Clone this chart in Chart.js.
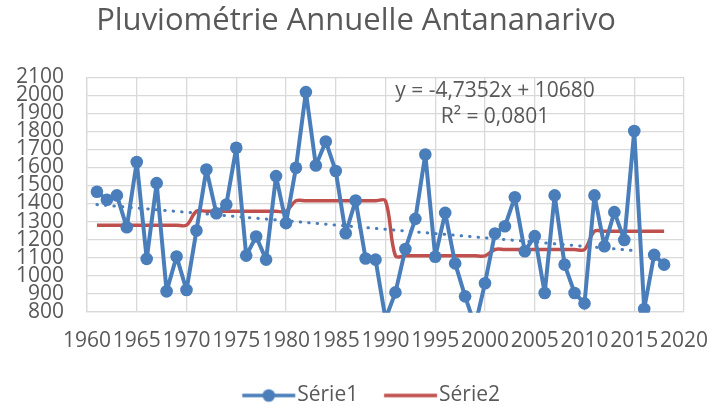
<!DOCTYPE html>
<html lang="fr">
<head>
<meta charset="utf-8">
<title>Pluviométrie Annuelle Antananarivo</title>
<script src="https://cdn.jsdelivr.net/npm/chart.js@4.4.1/dist/chart.umd.min.js"></script>
<style>
  html, body { margin: 0; padding: 0; background: #fff; }
  #wrap { width: 711px; height: 406px; }
</style>
</head>
<body>
<div id="wrap"><canvas id="pluvio" width="711" height="406"></canvas></div>
<script>
// Années et pluviométrie annuelle (mm)
const years = [1961, 1962, 1963, 1964, 1965, 1966, 1967, 1968, 1969, 1970,
               1971, 1972, 1973, 1974, 1975, 1976, 1977, 1978, 1979, 1980,
               1981, 1982, 1983, 1984, 1985, 1986, 1987, 1988, 1989, 1990,
               1991, 1992, 1993, 1994, 1995, 1996, 1997, 1998, 1999, 2000,
               2001, 2002, 2003, 2004, 2005, 2006, 2007, 2008, 2009, 2010,
               2011, 2012, 2013, 2014, 2015, 2016, 2017, 2018];
const serie1 = [1465, 1421, 1445, 1268, 1630, 1093, 1513, 913, 1106, 920,
                1250, 1589, 1346, 1394, 1709, 1111, 1217, 1089, 1552, 1291,
                1598, 2018, 1611, 1744, 1580, 1235, 1417, 1095, 1089, 760,
                907, 1148, 1315, 1672, 1105, 1348, 1068, 885, 720, 958,
                1234, 1274, 1435, 1135, 1219, 904, 1445, 1061, 904, 846,
                1445, 1163, 1352, 1198, 1802, 815, 1115, 1061];
// Moyennes par décennie
const serie2 = [1280, 1280, 1280, 1280, 1280, 1280, 1280, 1280, 1280, 1280,
                1357, 1357, 1357, 1357, 1357, 1357, 1357, 1357, 1357, 1357,
                1415, 1415, 1415, 1415, 1415, 1415, 1415, 1415, 1415, 1415,
                1110, 1110, 1110, 1110, 1110, 1110, 1110, 1110, 1110, 1110,
                1145, 1145, 1145, 1145, 1145, 1145, 1145, 1145, 1145, 1145,
                1246, 1246, 1246, 1246, 1246, 1246, 1246, 1246];
// Tendance linéaire : extrémités
const trendYears = [1961, 2015];
const trendValues = [1394, 1139];
const trendLabel = ["y = -4,7352x + 10680", "R² = 0,0801"];

const xTicks = [1960, 1965, 1970, 1975, 1980, 1985, 1990, 1995, 2000, 2005, 2010, 2015, 2020];
const yTicks = [800, 900, 1000, 1100, 1200, 1300, 1400, 1500, 1600, 1700, 1800, 1900, 2000, 2100];

const BLUE = "#4a7ebb";
const RED = "#c0504d";
const TEXT = "#595959";
const FONT = "'Open Sans', 'Liberation Sans', sans-serif";

// legend swatch: line (+ marker) drawn on a small canvas
function swatch(color, marker) {
  const c = document.createElement("canvas");
  c.width = 80;
  c.height = 16;
  const g = c.getContext("2d");
  g.strokeStyle = color;
  g.lineWidth = 3.5;
  g.beginPath();
  g.moveTo(25.9, 8);
  g.lineTo(78.9, 8);
  g.stroke();
  if (marker) {
    g.fillStyle = color;
    g.beginPath();
    g.arc(52.4, 8, 6.3, 0, Math.PI * 2);
    g.fill();
  }
  return c;
}
const swatches = [swatch(BLUE, true), swatch(RED, false)];

const trendText = {
  id: "trendText",
  afterDatasetsDraw(chart) {
    const { ctx, chartArea } = chart;
    ctx.save();
    ctx.font = "21px " + FONT;
    ctx.fillStyle = TEXT;
    ctx.textAlign = "center";
    ctx.textBaseline = "alphabetic";
    const cx = chartArea.left + 408;
    ctx.fillText(trendLabel[0], cx, chartArea.top + 20);
    ctx.fillText(trendLabel[1], cx, chartArea.top + 46);
    ctx.restore();
  }
};

// excel centres the legend a bit to the right of the title
const legendShift = {
  id: "legendShift",
  afterLayout(chart) {
    chart.legend.left += 7;
    chart.legend.right += 7;
  }
};

new Chart(document.getElementById("pluvio"), {
  type: "line",
  data: {
    datasets: [
      {
        label: "Série1",
        data: years.map((y, i) => ({ x: y, y: serie1[i] })),
        borderColor: BLUE,
        backgroundColor: BLUE,
        borderWidth: 4,
        borderJoinStyle: "round",
        pointRadius: 6.3,
        pointBorderWidth: 0,
        pointBackgroundColor: BLUE,
        tension: 0,
        clip: { left: 10, right: 10, top: 10, bottom: 1 },
        order: 1
      },
      {
        label: "Série2",
        data: years.map((y, i) => ({ x: y, y: serie2[i] })),
        borderColor: RED,
        backgroundColor: RED,
        borderWidth: 3.5,
        pointRadius: 0,
        tension: 0.35,
        order: 2
      },
      {
        label: "Tendance",
        data: trendYears.map((y, i) => ({ x: y, y: trendValues[i] })),
        borderColor: BLUE,
        borderWidth: 3,
        borderDash: [0.5, 8],
        borderCapStyle: "round",
        pointRadius: 0,
        order: 3
      }
    ]
  },
  options: {
    responsive: false,
    devicePixelRatio: 1,
    animation: false,
    layout: { padding: { left: 1, right: 0, top: 0, bottom: -10 } },
    scales: {
      x: {
        type: "linear",
        min: 1960,
        max: 2020,
        afterBuildTicks: s => { s.ticks = xTicks.map(v => ({ value: v })); },
        afterFit: s => { s.height = 63.7; s.paddingLeft = 0; s.paddingRight = 27; },
        ticks: {
          autoSkip: false,
          maxRotation: 0,
          padding: 17,
          color: TEXT,
          font: { family: FONT, size: 21 },
          callback: v => String(v)
        },
        grid: { color: "#d9d9d9", lineWidth: 1.3, drawTicks: false },
        border: { color: "#d9d9d9", width: 1.3 }
      },
      y: {
        min: 800,
        max: 2100,
        afterBuildTicks: s => { s.ticks = yTicks.map(v => ({ value: v })); },
        afterFit: s => { s.width = 86; s.paddingTop = 0; s.paddingBottom = 0; },
        ticks: {
          autoSkip: false,
          padding: 23,
          color: TEXT,
          font: { family: FONT, size: 21 },
          callback: v => String(v)
        },
        grid: { color: "#d9d9d9", lineWidth: 1.3, drawTicks: false },
        border: { color: "#d9d9d9", width: 1.3 }
      }
    },
    plugins: {
      title: {
        display: true,
        text: "Pluviométrie Annuelle Antananarivo",
        color: TEXT,
        font: { family: FONT, size: 31, weight: "normal" },
        padding: { top: 3, bottom: 37.1 }
      },
      legend: {
        position: "bottom",
        labels: {
          usePointStyle: true,
          pointStyleWidth: 60.7,
          padding: 9.6,
          color: TEXT,
          font: { family: FONT, size: 21 },
          filter: item => item.datasetIndex < 2,
          generateLabels: chart => {
            const items = Chart.defaults.plugins.legend.labels.generateLabels(chart);
            items.forEach(it => { it.pointStyle = swatches[it.datasetIndex] || "line"; });
            return items;
          }
        }
      },
      tooltip: { enabled: false }
    }
  },
  plugins: [trendText, legendShift]
});
</script>
</body>
</html>
